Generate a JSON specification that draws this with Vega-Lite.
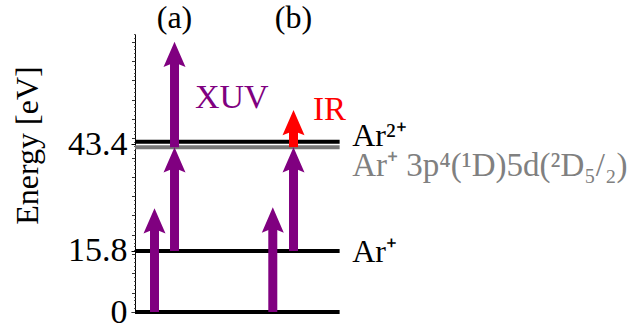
{
  "$schema": "https://vega.github.io/schema/vega-lite/v6.json",
  "width": 504,
  "height": 278,
  "autosize": {"type": "none"},
  "padding": {"left": 135, "top": 34, "right": 0, "bottom": 17},
  "background": "white",
  "config": {"view": {"stroke": null}, "font": "Liberation Serif", "axis": {"labelFont": "Liberation Serif", "titleFont": "Liberation Serif"}},
  "datasets": {
    "levels": [
      {"E": 0, "kind": "Ar"},
      {"E": 15.8, "kind": "Ar+"},
      {"E": 44.1, "kind": "Ar2+"},
      {"E": 42.7, "kind": "exc"}
    ],
    "arrows": [
      {"panel": "a", "x": 0.387, "y0": 0, "y1": 26.9, "beam": "XUV"},
      {"panel": "a", "x": 0.784, "y0": 15.8, "y1": 42.7, "beam": "XUV"},
      {"panel": "a", "x": 0.784, "y0": 42.7, "y1": 70.0, "beam": "XUV"},
      {"panel": "b", "x": 2.734, "y0": 0, "y1": 27.1, "beam": "XUV"},
      {"panel": "b", "x": 3.145, "y0": 15.8, "y1": 42.7, "beam": "XUV"},
      {"panel": "b", "x": 3.145, "y0": 42.7, "y1": 52.3, "beam": "IR"}
    ],
    "labels": [
      {"x": 0.784, "y": 73.6, "text": "(a)", "role": "panel"},
      {"x": 3.145, "y": 73.6, "text": "(b)", "role": "panel"},
      {"x": 1.19, "y": 52.8, "text": "XUV", "role": "xuv"},
      {"x": 3.53, "y": 49.7, "text": "IR", "role": "ir"},
      {"x": 4.31, "y": 43.0, "text": "Ar²⁺", "role": "level"},
      {"x": 4.31, "y": 35.2, "text": "Ar⁺ 3p⁴(¹D)5d(²D₅/₂)", "role": "exc"},
      {"x": 4.31, "y": 13.0, "text": "Ar⁺", "role": "level"}
    ]
  },
  "layer": [
    {
      "data": {"name": "levels"},
      "transform": [{"filter": "datum.kind == 'exc'"}],
      "mark": {"type": "rule", "color": "#777777", "strokeWidth": 4},
      "encoding": {
        "x": {"datum": 0, "type": "quantitative", "scale": {"domain": [0, 10]}, "axis": null},
        "x2": {"datum": 4.06},
        "y": {
          "field": "E", "type": "quantitative",
          "scale": {"domain": [0, 72], "nice": false, "zero": false},
          "axis": {
            "orient": "left", "values": [0, 15.8, 43.4], "format": ".1~f", "grid": false,
            "domain": true, "domainColor": "black", "domainWidth": 1,
            "ticks": true, "tickSize": 4, "tickColor": "black", "tickWidth": 1,
            "labelFont": "Liberation Serif", "labelFontSize": 34, "labelColor": "black",
            "labelPadding": 4, "labelOverlap": false, "labelFlush": false,
            "title": "Energy [eV]", "titleFont": "Liberation Serif", "titleFontSize": 32,
            "titleFontWeight": "normal", "titleColor": "black",
            "titleAngle": -90, "titleAlign": "center", "titleBaseline": "alphabetic",
            "titleX": -98, "titleY": 111
          }
        }
      }
    },
    {
      "data": {"name": "levels"},
      "transform": [{"filter": "datum.kind != 'exc'"}],
      "mark": {"type": "rule", "color": "black", "strokeWidth": 4},
      "encoding": {
        "x": {"datum": 0, "type": "quantitative", "scale": {"domain": [0, 10]}, "axis": null},
        "x2": {"datum": 4.06},
        "y": {
          "field": "E", "type": "quantitative",
          "scale": {"domain": [0, 72], "nice": false, "zero": false},
          "axis": {
            "orient": "left", "values": [0, 5, 10, 15, 20, 25, 30, 35, 40, 45, 50, 55, 60, 65, 70],
            "grid": false, "domain": false, "labels": false, "title": null,
            "ticks": true, "tickSize": 3.5, "tickColor": "#333333", "tickWidth": 1
          }
        }
      }
    },
    {
      "data": {"name": "arrows"},
      "mark": {"type": "rule", "strokeWidth": 9, "strokeCap": "butt", "y2Offset": 18},
      "encoding": {
        "x": {"field": "x", "type": "quantitative", "scale": {"domain": [0, 10]}, "axis": null},
        "y": {
          "field": "y0", "type": "quantitative",
          "scale": {"domain": [0, 72], "nice": false, "zero": false},
          "axis": {
            "orient": "left",
            "values": [1,2,3,4,6,7,8,9,11,12,13,14,16,17,18,19,21,22,23,24,26,27,28,29,31,32,33,34,36,37,38,39,41,42,43,44,46,47,48,49,51,52,53,54,56,57,58,59,61,62,63,64,66,67,68,69,71,72],
            "grid": false, "domain": false, "labels": false, "title": null,
            "ticks": true, "tickSize": 1.5, "tickColor": "#555555", "tickWidth": 1
          }
        },
        "y2": {"field": "y1"},
        "color": {"field": "beam", "type": "nominal", "scale": {"domain": ["XUV", "IR"], "range": ["#800080", "#ff0000"]}, "legend": null}
      }
    },
    {
      "data": {"name": "arrows"},
      "mark": {"type": "point", "filled": true, "opacity": 1, "size": 484, "shape": "M0,0L1,2.3L0,1.9L-1,2.3Z", "strokeWidth": 0},
      "encoding": {
        "x": {"field": "x", "type": "quantitative", "scale": {"domain": [0, 10]}, "axis": null},
        "y": {"field": "y1", "type": "quantitative", "scale": {"domain": [0, 72], "nice": false, "zero": false}, "axis": null},
        "color": {"field": "beam", "type": "nominal", "scale": {"domain": ["XUV", "IR"], "range": ["#800080", "#ff0000"]}, "legend": null}
      }
    },
    {
      "data": {"name": "labels"},
      "transform": [{"filter": "datum.role == 'panel'"}],
      "mark": {"type": "text", "font": "Liberation Serif", "fontSize": 32, "align": "center", "baseline": "alphabetic", "color": "black"},
      "encoding": {
        "x": {"field": "x", "type": "quantitative", "scale": {"domain": [0, 10]}, "axis": null},
        "y": {"field": "y", "type": "quantitative", "scale": {"domain": [0, 72], "nice": false, "zero": false}, "axis": null},
        "text": {"field": "text"}
      }
    },
    {
      "data": {"name": "labels"},
      "transform": [{"filter": "datum.role == 'xuv'"}],
      "mark": {"type": "text", "font": "Liberation Serif", "fontSize": 34, "align": "left", "baseline": "alphabetic", "color": "#800080"},
      "encoding": {
        "x": {"field": "x", "type": "quantitative", "scale": {"domain": [0, 10]}, "axis": null},
        "y": {"field": "y", "type": "quantitative", "scale": {"domain": [0, 72], "nice": false, "zero": false}, "axis": null},
        "text": {"field": "text"}
      }
    },
    {
      "data": {"name": "labels"},
      "transform": [{"filter": "datum.role == 'ir'"}],
      "mark": {"type": "text", "font": "Liberation Serif", "fontSize": 33, "align": "left", "baseline": "alphabetic", "color": "#ff0000"},
      "encoding": {
        "x": {"field": "x", "type": "quantitative", "scale": {"domain": [0, 10]}, "axis": null},
        "y": {"field": "y", "type": "quantitative", "scale": {"domain": [0, 72], "nice": false, "zero": false}, "axis": null},
        "text": {"field": "text"}
      }
    },
    {
      "data": {"name": "labels"},
      "transform": [{"filter": "datum.role == 'level'"}],
      "mark": {"type": "text", "font": "Liberation Serif", "fontSize": 32, "align": "left", "baseline": "alphabetic", "color": "black"},
      "encoding": {
        "x": {"field": "x", "type": "quantitative", "scale": {"domain": [0, 10]}, "axis": null},
        "y": {"field": "y", "type": "quantitative", "scale": {"domain": [0, 72], "nice": false, "zero": false}, "axis": null},
        "text": {"field": "text"}
      }
    },
    {
      "data": {"name": "labels"},
      "transform": [{"filter": "datum.role == 'exc'"}],
      "mark": {"type": "text", "font": "Liberation Serif", "fontSize": 33, "align": "left", "baseline": "alphabetic", "color": "#808080"},
      "encoding": {
        "x": {"field": "x", "type": "quantitative", "scale": {"domain": [0, 10]}, "axis": null},
        "y": {"field": "y", "type": "quantitative", "scale": {"domain": [0, 72], "nice": false, "zero": false}, "axis": null},
        "text": {"field": "text"}
      }
    }
  ],
  "resolve": {"axis": {"y": "independent"}}
}
